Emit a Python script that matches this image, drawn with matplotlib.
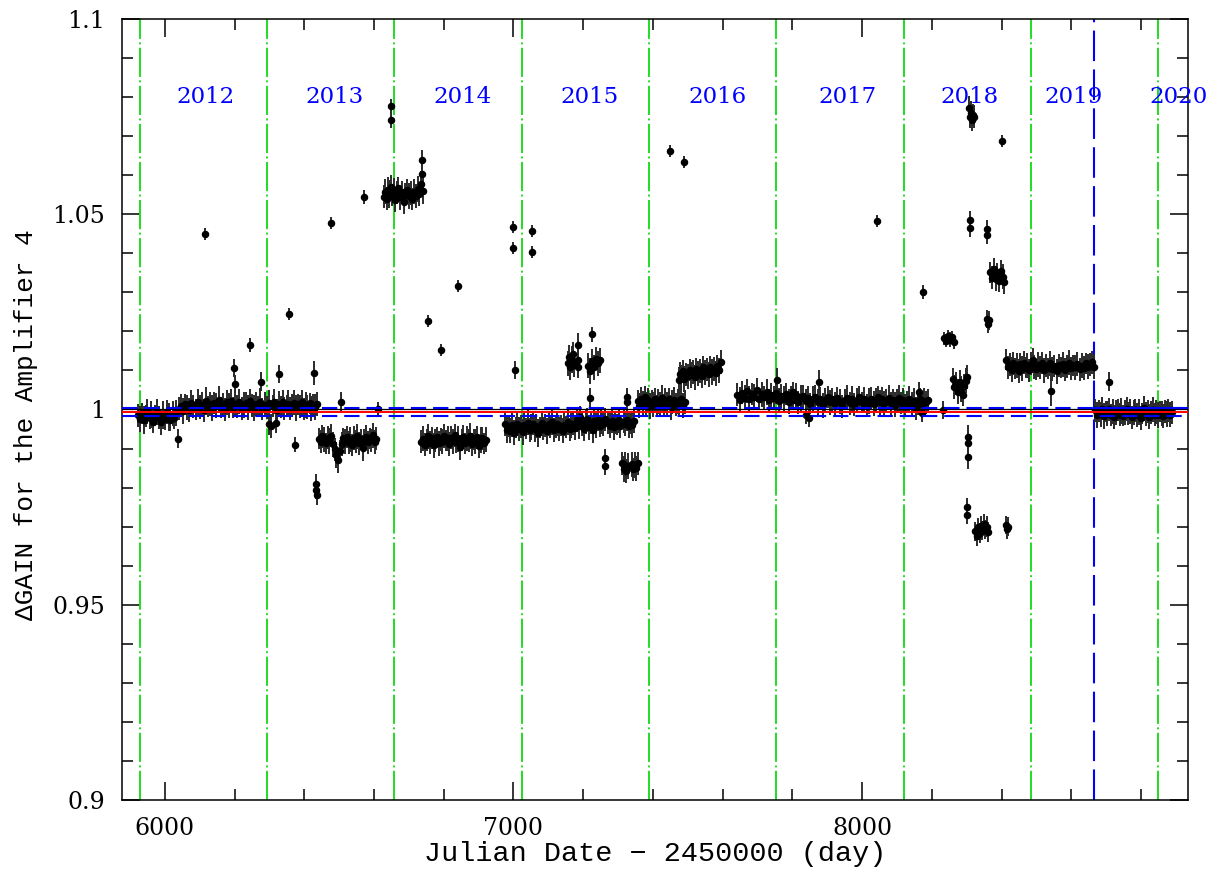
import matplotlib
matplotlib.use("Agg")
import matplotlib.pyplot as plt
from matplotlib.ticker import MultipleLocator, FuncFormatter

plt.rcParams['lines.scale_dashes'] = False

seg_2012 = [
    (5924, 0.9985, 0.0030), (5929, 0.9976, 0.0033), (5934, 0.9990, 0.0027), (5939, 0.9972, 0.0036),
    (5945, 0.9983, 0.0029), (5950, 0.9995, 0.0032), (5956, 0.9977, 0.0026), (5961, 0.9988, 0.0035),
    (5967, 0.9969, 0.0030), (5972, 0.9984, 0.0027), (5978, 0.9993, 0.0033), (5983, 0.9979, 0.0029),
    (5989, 0.9967, 0.0032), (5994, 0.9986, 0.0036), (6000, 0.9975, 0.0027), (6005, 0.9994, 0.0030),
    (6011, 0.9981, 0.0035), (6016, 0.9973, 0.0029), (6022, 0.9989, 0.0032), (6027, 0.9978, 0.0027),
    (6033, 0.9991, 0.0033), (6040, 1.0002, 0.0030), (6046, 1.0010, 0.0029), (6052, 0.9996, 0.0033),
    (6058, 1.0013, 0.0027), (6064, 1.0005, 0.0032), (6070, 0.9999, 0.0030), (6076, 1.0016, 0.0035),
    (6082, 1.0008, 0.0029), (6088, 1.0001, 0.0027), (6094, 1.0019, 0.0033), (6100, 1.0006, 0.0030),
    (6106, 1.0012, 0.0032), (6112, 0.9998, 0.0029), (6118, 1.0021, 0.0036), (6124, 1.0007, 0.0027),
    (6130, 1.0014, 0.0030), (6136, 1.0003, 0.0033), (6142, 1.0017, 0.0029), (6148, 1.0010, 0.0032),
    (6154, 1.0025, 0.0035), (6160, 1.0005, 0.0027), (6166, 1.0013, 0.0030), (6172, 1.0000, 0.0029),
    (6178, 1.0018, 0.0033), (6184, 1.0009, 0.0032), (6190, 1.0022, 0.0030), (6196, 1.0004, 0.0027),
    (6202, 1.0015, 0.0035), (6208, 1.0008, 0.0029), (6214, 1.0020, 0.0032), (6220, 1.0002, 0.0030),
    (6226, 1.0012, 0.0033), (6232, 1.0017, 0.0027), (6238, 1.0006, 0.0032), (6244, 1.0023, 0.0030),
    (6250, 1.0011, 0.0029), (6256, 1.0003, 0.0033), (6262, 1.0014, 0.0030), (6268, 1.0008, 0.0027),
    (6274, 1.0019, 0.0035), (6280, 1.0001, 0.0029), (6286, 1.0012, 0.0032), (6292, 1.0005, 0.0030),
    (6298, 0.9962, 0.0027), (6300, 1.0016, 0.0033), (6305, 0.9958, 0.0030), (6309, 1.0009, 0.0029),
    (6314, 1.0020, 0.0032), (6318, 0.9966, 0.0027), (6321, 0.9998, 0.0030), (6327, 1.0014, 0.0033),
    (6332, 1.0006, 0.0029), (6338, 1.0018, 0.0032), (6343, 1.0003, 0.0030), (6349, 1.0011, 0.0027),
    (6354, 1.0015, 0.0035), (6360, 1.0002, 0.0030), (6365, 1.0010, 0.0029), (6371, 1.0017, 0.0032),
    (6376, 1.0004, 0.0033), (6382, 1.0013, 0.0027), (6387, 1.0008, 0.0030), (6393, 1.0019, 0.0032),
    (6398, 1.0001, 0.0029), (6404, 1.0012, 0.0033), (6409, 1.0006, 0.0030), (6415, 1.0016, 0.0027),
    (6420, 1.0003, 0.0032), (6426, 1.0011, 0.0029), (6431, 1.0007, 0.0033), (6437, 1.0014, 0.0030),
]

seg_2013 = [
    (6442, 0.9925, 0.0027), (6447, 0.9918, 0.0030), (6452, 0.9931, 0.0029), (6457, 0.9922, 0.0032),
    (6462, 0.9914, 0.0027), (6467, 0.9928, 0.0030), (6472, 0.9920, 0.0033), (6477, 0.9933, 0.0029),
    (6482, 0.9911, 0.0032), (6487, 0.9898, 0.0030), (6492, 0.9884, 0.0033), (6497, 0.9870, 0.0032),
    (6502, 0.9893, 0.0029), (6507, 0.9912, 0.0030), (6512, 0.9926, 0.0027), (6517, 0.9919, 0.0032),
    (6522, 0.9930, 0.0029), (6527, 0.9915, 0.0030), (6532, 0.9923, 0.0033), (6537, 0.9909, 0.0027),
    (6542, 0.9927, 0.0030), (6547, 0.9918, 0.0029), (6552, 0.9932, 0.0032), (6557, 0.9913, 0.0030),
    (6562, 0.9924, 0.0027), (6567, 0.9901, 0.0033), (6572, 0.9920, 0.0029), (6577, 0.9929, 0.0032),
    (6582, 0.9916, 0.0030), (6587, 0.9926, 0.0027), (6592, 0.9921, 0.0029), (6597, 0.9934, 0.0032),
    (6602, 0.9917, 0.0030), (6606, 0.9925, 0.0029),
]

seg_2014_high = [
    (6628, 1.0545, 0.0030), (6632, 1.0558, 0.0033), (6636, 1.0540, 0.0029), (6640, 1.0563, 0.0032),
    (6644, 1.0552, 0.0035), (6648, 1.0570, 0.0030), (6652, 1.0548, 0.0027), (6656, 1.0561, 0.0033),
    (6660, 1.0537, 0.0032), (6665, 1.0555, 0.0029), (6670, 1.0566, 0.0030), (6675, 1.0543, 0.0033),
    (6680, 1.0557, 0.0027), (6685, 1.0532, 0.0032), (6690, 1.0550, 0.0030), (6695, 1.0561, 0.0029),
    (6700, 1.0546, 0.0033), (6705, 1.0554, 0.0030), (6710, 1.0539, 0.0027), (6715, 1.0558, 0.0032),
    (6720, 1.0547, 0.0030), (6725, 1.0565, 0.0033), (6730, 1.0551, 0.0029), (6734, 1.0578, 0.0032),
    (6738, 1.0602, 0.0030), (6741, 1.0560, 0.0033),
]

seg_2014_low = [
    (6736, 0.9918, 0.0029), (6741, 0.9925, 0.0032), (6746, 0.9910, 0.0030), (6751, 0.9922, 0.0027),
    (6756, 0.9931, 0.0033), (6761, 0.9915, 0.0030), (6766, 0.9927, 0.0029), (6771, 0.9908, 0.0032),
    (6776, 0.9920, 0.0030), (6781, 0.9929, 0.0027), (6786, 0.9913, 0.0033), (6791, 0.9924, 0.0029),
    (6796, 0.9917, 0.0032), (6801, 0.9932, 0.0030), (6806, 0.9921, 0.0027), (6811, 0.9926, 0.0033),
    (6816, 0.9912, 0.0030), (6821, 0.9928, 0.0029), (6826, 0.9919, 0.0032), (6831, 0.9934, 0.0030),
    (6836, 0.9916, 0.0027), (6841, 0.9925, 0.0033), (6846, 0.9903, 0.0032), (6851, 0.9922, 0.0029),
    (6856, 0.9930, 0.0030), (6861, 0.9914, 0.0027), (6866, 0.9927, 0.0032), (6871, 0.9920, 0.0029),
    (6876, 0.9933, 0.0033), (6881, 0.9911, 0.0030), (6886, 0.9924, 0.0027), (6891, 0.9918, 0.0032),
    (6896, 0.9929, 0.0030), (6901, 0.9906, 0.0029), (6906, 0.9921, 0.0033), (6911, 0.9926, 0.0030),
    (6916, 0.9913, 0.0027), (6920, 0.9923, 0.0032),
]

seg_2015 = [
    (6976, 0.9962, 0.0030), (6981, 0.9948, 0.0033), (6986, 0.9958, 0.0029), (6991, 0.9945, 0.0032),
    (6996, 0.9960, 0.0030), (7001, 0.9941, 0.0033), (7006, 0.9955, 0.0027), (7011, 0.9964, 0.0032),
    (7016, 0.9950, 0.0030), (7021, 0.9957, 0.0029), (7026, 0.9943, 0.0033), (7031, 0.9961, 0.0030),
    (7036, 0.9952, 0.0027), (7041, 0.9966, 0.0032), (7046, 0.9947, 0.0030), (7051, 0.9956, 0.0033),
    (7056, 0.9963, 0.0029), (7061, 0.9949, 0.0032), (7066, 0.9958, 0.0030), (7071, 0.9940, 0.0035),
    (7076, 0.9954, 0.0027), (7081, 0.9965, 0.0032), (7086, 0.9951, 0.0030), (7091, 0.9959, 0.0029),
    (7096, 0.9944, 0.0033), (7101, 0.9962, 0.0030), (7106, 0.9953, 0.0027), (7111, 0.9967, 0.0032),
    (7116, 0.9948, 0.0030), (7121, 0.9957, 0.0029), (7126, 0.9964, 0.0033), (7131, 0.9950, 0.0030),
    (7136, 0.9959, 0.0027), (7141, 0.9946, 0.0032), (7146, 0.9961, 0.0030), (7151, 0.9955, 0.0029),
    (7156, 0.9968, 0.0033), (7161, 0.9949, 0.0030), (7166, 0.9958, 0.0032), (7171, 0.9963, 0.0029),
    (7176, 0.9952, 0.0030),
    (7182, 0.9972, 0.0030), (7187, 0.9958, 0.0033), (7192, 0.9981, 0.0029), (7197, 0.9963, 0.0032),
    (7202, 0.9950, 0.0030), (7207, 0.9969, 0.0033), (7212, 0.9976, 0.0027), (7217, 0.9955, 0.0032),
    (7222, 0.9966, 0.0030), (7227, 0.9948, 0.0033), (7232, 0.9971, 0.0029), (7237, 0.9960, 0.0032),
    (7242, 0.9974, 0.0030), (7247, 0.9957, 0.0027), (7252, 0.9968, 0.0032), (7257, 0.9962, 0.0030),
    (7262, 0.9975, 0.0029),
    (7272, 0.9966, 0.0030), (7277, 0.9958, 0.0032), (7282, 0.9970, 0.0029), (7287, 0.9955, 0.0033),
    (7292, 0.9967, 0.0030), (7297, 0.9961, 0.0027), (7302, 0.9972, 0.0032), (7307, 0.9957, 0.0030),
    (7316, 0.9969, 0.0029), (7321, 0.9963, 0.0032), (7326, 0.9974, 0.0030), (7331, 0.9959, 0.0033),
    (7336, 0.9966, 0.0029), (7341, 0.9960, 0.0032), (7346, 0.9971, 0.0030),
]

seg_2015_high = [
    (7155, 1.0118, 0.0033), (7159, 1.0135, 0.0030), (7163, 1.0108, 0.0032), (7167, 1.0128, 0.0035),
    (7171, 1.0142, 0.0030), (7175, 1.0115, 0.0033), (7185, 1.0165, 0.0030), (7185, 1.0126, 0.0032),
    (7185, 1.0110, 0.0029), (7215, 1.0112, 0.0032), (7220, 1.0098, 0.0033), (7225, 1.0124, 0.0030),
    (7230, 1.0108, 0.0032), (7236, 1.0130, 0.0030), (7242, 1.0118, 0.0033), (7248, 1.0126, 0.0032),
]

seg_2015_low = [
    (7312, 0.9862, 0.0030), (7316, 0.9848, 0.0033), (7320, 0.9858, 0.0032), (7324, 0.9843, 0.0030),
    (7328, 0.9855, 0.0033), (7340, 0.9860, 0.0032), (7344, 0.9847, 0.0030), (7348, 0.9857, 0.0033),
    (7352, 0.9850, 0.0032), (7356, 0.9862, 0.0030),
]

seg_2016 = [
    (7356, 1.0022, 0.0029), (7361, 1.0010, 0.0032), (7366, 1.0028, 0.0030), (7371, 1.0015, 0.0033),
    (7376, 1.0031, 0.0029), (7381, 1.0012, 0.0032), (7386, 1.0024, 0.0030), (7391, 1.0008, 0.0033),
    (7396, 1.0020, 0.0029), (7401, 1.0013, 0.0032), (7406, 1.0026, 0.0030), (7411, 1.0009, 0.0027),
    (7416, 1.0021, 0.0032), (7421, 1.0016, 0.0030), (7426, 1.0029, 0.0033), (7431, 1.0011, 0.0029),
    (7436, 1.0023, 0.0032), (7441, 1.0014, 0.0030), (7446, 1.0027, 0.0027), (7451, 1.0006, 0.0032),
    (7456, 1.0019, 0.0030), (7461, 1.0024, 0.0033), (7466, 1.0012, 0.0029), (7471, 1.0021, 0.0032),
    (7476, 1.0016, 0.0030), (7481, 1.0028, 0.0029), (7486, 1.0010, 0.0032), (7491, 1.0019, 0.0030),
    (7474, 1.0075, 0.0033), (7478, 1.0092, 0.0030), (7482, 1.0083, 0.0032), (7486, 1.0098, 0.0029),
    (7490, 1.0078, 0.0033), (7495, 1.0090, 0.0030), (7500, 1.0085, 0.0032), (7505, 1.0101, 0.0029),
    (7510, 1.0088, 0.0033), (7515, 1.0096, 0.0030), (7520, 1.0083, 0.0032), (7525, 1.0104, 0.0029),
    (7530, 1.0092, 0.0033), (7535, 1.0099, 0.0030), (7540, 1.0087, 0.0032), (7545, 1.0108, 0.0029),
    (7550, 1.0095, 0.0033), (7555, 1.0102, 0.0030), (7560, 1.0090, 0.0032), (7565, 1.0109, 0.0029),
    (7570, 1.0097, 0.0033), (7575, 1.0104, 0.0030), (7580, 1.0093, 0.0032), (7585, 1.0111, 0.0029),
    (7590, 1.0100, 0.0033), (7594, 1.0122, 0.0030),
]

seg_2017 = [
    (7642, 1.0038, 0.0030), (7649, 1.0025, 0.0033), (7656, 1.0043, 0.0029), (7663, 1.0030, 0.0032),
    (7670, 1.0047, 0.0030), (7677, 1.0028, 0.0033), (7684, 1.0040, 0.0029), (7691, 1.0033, 0.0032),
    (7698, 1.0050, 0.0030), (7705, 1.0026, 0.0027), (7712, 1.0039, 0.0032), (7719, 1.0031, 0.0030),
    (7726, 1.0044, 0.0033), (7733, 1.0024, 0.0029), (7740, 1.0036, 0.0032), (7747, 1.0029, 0.0030),
    (7754, 1.0042, 0.0027), (7761, 1.0022, 0.0032), (7768, 1.0035, 0.0030), (7775, 1.0027, 0.0033),
    (7782, 1.0040, 0.0029), (7789, 1.0020, 0.0032), (7796, 1.0031, 0.0030), (7803, 1.0025, 0.0027),
    (7810, 1.0037, 0.0032), (7817, 1.0018, 0.0030), (7824, 1.0029, 0.0033), (7831, 1.0034, 0.0029),
    (7838, 1.0021, 0.0032), (7845, 1.0030, 0.0030), (7852, 1.0015, 0.0027), (7859, 1.0027, 0.0032),
    (7866, 1.0033, 0.0030), (7873, 1.0019, 0.0033), (7880, 1.0028, 0.0029), (7887, 1.0011, 0.0032),
    (7894, 1.0024, 0.0030), (7901, 1.0032, 0.0027), (7908, 1.0018, 0.0032), (7915, 1.0026, 0.0030),
    (7922, 1.0013, 0.0033), (7929, 1.0029, 0.0029), (7936, 1.0021, 0.0032), (7943, 1.0008, 0.0030),
    (7950, 1.0025, 0.0027), (7957, 1.0030, 0.0032), (7964, 1.0016, 0.0030), (7971, 1.0027, 0.0033),
    (7978, 1.0012, 0.0029), (7985, 1.0023, 0.0032), (7992, 1.0031, 0.0030), (7999, 1.0017, 0.0027),
    (8006, 1.0026, 0.0032), (8013, 1.0010, 0.0030), (8020, 1.0022, 0.0033), (8027, 1.0028, 0.0029),
    (8034, 1.0015, 0.0032), (8040, 1.0024, 0.0030), (8046, 1.0033, 0.0027), (8052, 1.0019, 0.0032),
    (8058, 1.0027, 0.0030), (8064, 1.0014, 0.0033), (8070, 1.0023, 0.0029), (8076, 1.0030, 0.0032),
    (8082, 1.0016, 0.0030), (8088, 1.0025, 0.0027), (8094, 1.0012, 0.0032), (8100, 1.0022, 0.0030),
    (8106, 1.0029, 0.0033), (8112, 1.0017, 0.0029), (8118, 1.0024, 0.0032), (8124, 1.0010, 0.0030),
    (8130, 1.0021, 0.0027), (8136, 1.0027, 0.0032), (8142, 1.0015, 0.0030), (8148, 1.0023, 0.0033),
    (8154, 1.0003, 0.0029), (8160, 1.0019, 0.0032), (8166, 1.0026, 0.0030), (8172, 1.0013, 0.0027),
    (8178, 1.0022, 0.0032), (8184, 1.0018, 0.0030), (8189, 1.0024, 0.0029),
]

seg_2018 = [
    (8234, 1.0182, 0.0016), (8240, 1.0176, 0.0017), (8246, 1.0188, 0.0016), (8252, 1.0179, 0.0019),
    (8258, 1.0185, 0.0016), (8264, 1.0172, 0.0017),
    (8260, 1.0078, 0.0027), (8265, 1.0058, 0.0030), (8270, 1.0066, 0.0029), (8275, 1.0045, 0.0032),
    (8280, 1.0070, 0.0030), (8285, 1.0052, 0.0033), (8289, 1.0038, 0.0030), (8293, 1.0061, 0.0029),
    (8297, 1.0074, 0.0032), (8301, 1.0083, 0.0030),
    (8325, 0.9688, 0.0024), (8329, 0.9675, 0.0025), (8333, 0.9698, 0.0024), (8337, 0.9684, 0.0026),
    (8341, 0.9702, 0.0025), (8345, 0.9690, 0.0024), (8349, 0.9707, 0.0025), (8353, 0.9693, 0.0024),
    (8357, 0.9700, 0.0026), (8361, 0.9686, 0.0025),
    (8414, 0.9704, 0.0024), (8416, 0.9693, 0.0025), (8418, 0.9700, 0.0024),
    (8306, 1.0772, 0.0030), (8309, 1.0748, 0.0027), (8312, 1.0760, 0.0029), (8315, 1.0742, 0.0030),
    (8318, 1.0755, 0.0027), (8321, 1.0750, 0.0029),
    (8368, 1.0352, 0.0027), (8373, 1.0338, 0.0030), (8378, 1.0360, 0.0029), (8383, 1.0335, 0.0032),
    (8388, 1.0348, 0.0027), (8393, 1.0330, 0.0030), (8398, 1.0355, 0.0029), (8403, 1.0340, 0.0032),
    (8408, 1.0326, 0.0029),
    (8359, 1.0232, 0.0024), (8362, 1.0220, 0.0025), (8365, 1.0228, 0.0024),
]

seg_2019 = [
    (8414, 1.0128, 0.0027), (8419, 1.0108, 0.0030), (8424, 1.0115, 0.0029), (8429, 1.0102, 0.0032),
    (8434, 1.0118, 0.0030), (8439, 1.0106, 0.0027), (8444, 1.0113, 0.0032), (8449, 1.0099, 0.0030),
    (8454, 1.0116, 0.0029), (8459, 1.0104, 0.0032), (8464, 1.0120, 0.0030), (8469, 1.0108, 0.0027),
    (8474, 1.0112, 0.0032), (8479, 1.0100, 0.0030), (8484, 1.0117, 0.0029), (8489, 1.0126, 0.0032),
    (8494, 1.0109, 0.0030), (8499, 1.0103, 0.0027), (8504, 1.0114, 0.0032), (8510, 1.0107, 0.0030),
    (8516, 1.0119, 0.0029), (8522, 1.0101, 0.0032), (8528, 1.0112, 0.0030), (8534, 1.0106, 0.0027),
    (8540, 1.0118, 0.0032), (8546, 1.0104, 0.0030), (8552, 1.0111, 0.0029), (8558, 1.0098, 0.0032),
    (8564, 1.0113, 0.0030), (8570, 1.0107, 0.0027), (8576, 1.0116, 0.0032), (8582, 1.0102, 0.0030),
    (8588, 1.0110, 0.0029), (8594, 1.0120, 0.0032), (8600, 1.0105, 0.0030), (8606, 1.0113, 0.0027),
    (8612, 1.0108, 0.0032), (8618, 1.0117, 0.0030), (8624, 1.0103, 0.0029), (8630, 1.0112, 0.0032),
    (8636, 1.0106, 0.0030), (8642, 1.0118, 0.0027), (8648, 1.0109, 0.0032), (8654, 1.0115, 0.0030),
    (8660, 1.0121, 0.0029), (8664, 1.0110, 0.0032),
]

seg_2020 = [
    (8669, 0.9998, 0.0030), (8674, 0.9985, 0.0033), (8679, 0.9996, 0.0029), (8684, 0.9988, 0.0032),
    (8689, 1.0002, 0.0030), (8694, 0.9983, 0.0033), (8699, 0.9994, 0.0027), (8704, 0.9990, 0.0032),
    (8709, 1.0000, 0.0030), (8714, 0.9986, 0.0029), (8719, 0.9995, 0.0033), (8724, 0.9981, 0.0030),
    (8729, 0.9993, 0.0032), (8734, 0.9999, 0.0029), (8739, 0.9987, 0.0030), (8744, 0.9996, 0.0033),
    (8749, 0.9984, 0.0027), (8754, 0.9992, 0.0032), (8759, 1.0001, 0.0030), (8764, 0.9989, 0.0029),
    (8769, 0.9995, 0.0033), (8774, 0.9980, 0.0030), (8779, 0.9993, 0.0032), (8784, 0.9998, 0.0029),
    (8789, 0.9986, 0.0030), (8794, 0.9994, 0.0033), (8799, 0.9978, 0.0030), (8804, 0.9990, 0.0027),
    (8809, 1.0003, 0.0032), (8814, 0.9988, 0.0030), (8819, 0.9995, 0.0029), (8824, 0.9982, 0.0033),
    (8829, 0.9992, 0.0030), (8834, 0.9999, 0.0032), (8839, 0.9987, 0.0029), (8844, 0.9994, 0.0030),
    (8849, 0.9985, 0.0033), (8854, 0.9996, 0.0027), (8859, 0.9990, 0.0032), (8864, 0.9983, 0.0030),
    (8869, 0.9995, 0.0029), (8874, 0.9989, 0.0033), (8879, 0.9997, 0.0030), (8884, 0.9986, 0.0032),
    (8889, 0.9993, 0.0029),
]

outliers = [
    (6039, 0.9925, 0.0024), (6115, 1.0449, 0.0016), (6197, 1.0106, 0.0024), (6200, 1.0065, 0.0024),
    (6243, 1.0165, 0.0019), (6275, 1.0071, 0.0024), (6326, 1.0091, 0.0024), (6356, 1.0245, 0.0016),
    (6373, 0.9910, 0.0019), (6427, 1.0094, 0.0030), (6434, 0.9810, 0.0024), (6434, 0.9795, 0.0024),
    (6435, 0.9780, 0.0024), (6476, 1.0478, 0.0016), (6505, 1.0020, 0.0024), (6571, 1.0544, 0.0019),
    (6611, 1.0001, 0.0019), (6648, 1.0777, 0.0019), (6648, 1.0741, 0.0019), (6737, 1.0640, 0.0024),
    (6755, 1.0227, 0.0016), (6792, 1.0153, 0.0016), (6841, 1.0316, 0.0016), (6999, 1.0467, 0.0016),
    (6999, 1.0414, 0.0016), (7004, 1.0101, 0.0024), (7053, 1.0457, 0.0016), (7053, 1.0403, 0.0016),
    (7220, 1.0030, 0.0024), (7224, 1.0193, 0.0019), (7263, 0.9876, 0.0024), (7263, 0.9855, 0.0024),
    (7325, 1.0032, 0.0024), (7325, 1.0020, 0.0024), (7449, 1.0662, 0.0016), (7489, 1.0634, 0.0016),
    (7755, 1.0076, 0.0030), (7803, 1.0046, 0.0024), (7838, 0.9986, 0.0024), (7849, 0.9978, 0.0024),
    (7877, 1.0071, 0.0030), (8043, 1.0483, 0.0016), (8164, 1.0046, 0.0024), (8172, 0.9991, 0.0024),
    (8175, 1.0301, 0.0019), (8232, 0.9999, 0.0024), (8301, 0.9750, 0.0024), (8301, 0.9730, 0.0024),
    (8304, 0.9930, 0.0030), (8304, 0.9914, 0.0030), (8304, 0.9878, 0.0030), (8310, 1.0485, 0.0024),
    (8310, 1.0465, 0.0024), (8358, 1.0462, 0.0024), (8358, 1.0447, 0.0024), (8402, 1.0688, 0.0016),
    (8542, 1.0048, 0.0038), (8709, 1.0071, 0.0024),
]

year_starts = [5927.5, 6293.5, 6658.5, 7023.5, 7389.5, 7754.5, 8119.5, 8484.5, 8849.5]
year_labels = ['2012', '2013', '2014', '2015', '2016', '2017', '2018', '2019', '2020']
year_label_x = [6118, 6487, 6855, 7219, 7586, 7958, 8307, 8607, 8907]
change_day = 8666
ref_level = 1.0
mean_level = 0.9994
band_hi = 1.0003
band_lo = 0.9984

fig = plt.figure(figsize=(12.22, 8.75), dpi=100)
ax = fig.add_axes([122 / 1222, 1 - 800 / 875, 1066 / 1222, 781 / 875])

all_points = (seg_2012 + seg_2013 + seg_2014_high + seg_2014_low + seg_2015 + seg_2015_high
              + seg_2015_low + seg_2016 + seg_2017 + seg_2018 + seg_2019 + seg_2020 + outliers)
days = [p[0] for p in all_points]
gains = [p[1] for p in all_points]
errs = [p[2] for p in all_points]

ax.errorbar(days, gains, yerr=errs, fmt='o', ms=4.4, mfc='black', mec='black',
            ecolor='#2a2a2a', elinewidth=1.4, capsize=0, zorder=3)

ax.axhline(ref_level, color='black', lw=0.9, zorder=4)
ax.axhline(mean_level, color='red', lw=1.4, zorder=5)
ax.axhline(band_hi, color='blue', lw=1.5, dashes=(11, 5), zorder=5)
ax.axhline(band_lo, color='blue', lw=1.5, dashes=(11, 5), zorder=5)
ax.plot([change_day, 8935], [band_hi, band_hi], color='blue', lw=1.5, zorder=5)

for xs in year_starts:
    ax.axvline(xs, color='#22dd22', lw=1.4, dashes=(21, 2.5, 1.4, 2.5), zorder=2)
ax.axvline(change_day, color='blue', lw=1.5, dashes=(22, 6), zorder=2)

for xl, lab in zip(year_label_x, year_labels):
    ax.text(xl, 1.08, lab, color='blue', ha='center', va='center',
            family='DejaVu Serif', fontsize=16.5, clip_on=False)

ax.set_xlim(5877, 8935)
ax.set_ylim(0.9, 1.1)
ax.xaxis.set_major_locator(MultipleLocator(1000))
ax.xaxis.set_minor_locator(MultipleLocator(200))
ax.yaxis.set_major_locator(MultipleLocator(0.05))
ax.yaxis.set_minor_locator(MultipleLocator(0.01))
ax.yaxis.set_major_formatter(FuncFormatter(lambda v, p: f'{v:g}'))
ax.tick_params(which='both', direction='in', top=True, right=True, width=1.1)
ax.tick_params(which='major', length=13)
ax.tick_params(which='minor', length=8)
ax.tick_params(axis='x', pad=12)
ax.tick_params(axis='y', pad=12)
for lab in ax.get_xticklabels() + ax.get_yticklabels():
    lab.set_family('DejaVu Serif')
    lab.set_fontsize(17)
for sp in ax.spines.values():
    sp.set_linewidth(1.1)

ax.set_xlabel('Julian Date \u2212 2450000 (day)', family='Liberation Mono', fontsize=20.5, labelpad=1)
ax.set_ylabel('\u0394GAIN for the Amplifier 4', family='Liberation Mono', fontsize=18.8)
ax.yaxis.set_label_coords(-0.079, 0.48)

fig.savefig('out.png', dpi=100)
